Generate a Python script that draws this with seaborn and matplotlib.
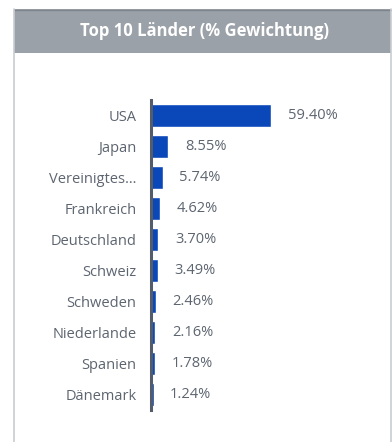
import matplotlib
matplotlib.use("Agg")
import matplotlib.pyplot as plt
import seaborn as sns
import pandas as pd
from matplotlib.patches import Rectangle
from matplotlib.lines import Line2D

countries = ["USA", "Japan", "Vereinigtes…", "Frankreich", "Deutschland",
             "Schweiz", "Schweden", "Niederlande", "Spanien", "Dänemark"]
weights = [59.40, 8.55, 5.74, 4.62, 3.70, 3.49, 2.46, 2.16, 1.78, 1.24]
value_labels = ["59.40%", "8.55%", "5.74%", "4.62%", "3.70%",
                "3.49%", "2.46%", "2.16%", "1.78%", "1.24%"]
title = "Top 10 Länder (% Gewichtung)"

df = pd.DataFrame({"Land": countries, "Gewichtung": weights})

sns.set_theme(style="white")
plt.rcParams["font.family"] = ["Open Sans", "DejaVu Sans"]

W, H = 392, 442
fig = plt.figure(figsize=(W / 100, H / 100), dpi=100)
fig.patch.set_facecolor("white")

# card frame and header band (figure pixel coordinates)
def fx(x):
    return x / W

def fy(y):
    return 1 - y / H

fig.patches.append(Rectangle((fx(14), fy(53)), fx(391) - fx(14), fy(9) - fy(53),
                             transform=fig.transFigure, facecolor="#9ba1a8",
                             edgecolor="none", zorder=0))
fig.lines.append(Line2D([fx(14), fx(391)], [fy(9.5), fy(9.5)], transform=fig.transFigure,
                        color="#7d848b", lw=1.0))
fig.lines.append(Line2D([fx(14), fx(14)], [fy(9), 0], transform=fig.transFigure,
                        color="#c9cdd1", lw=1.2))
fig.lines.append(Line2D([fx(390.5), fx(390.5)], [fy(9), 0], transform=fig.transFigure,
                        color="#c9cdd1", lw=1.2))
fig.text(fx(204), fy(31), title, ha="center", va="center", color="white",
         fontsize=12, fontweight="bold")

# bar chart area
left, right, top, bottom = 151, 373, 100, 410
ax = fig.add_axes([fx(left), fy(bottom), fx(right) - fx(left), fy(top) - fy(bottom)])
sns.barplot(data=df, x="Gewichtung", y="Land", orient="h", color="#0a47b9",
            width=0.74, saturation=1, ax=ax)
ax.set_xlim(0, (right - left) / 2.02)
ax.set_ylim(9.5, -0.5)
ax.set_xlabel("")
ax.set_ylabel("")
ax.set_xticks([])
ax.set_facecolor("none")
for s in ["top", "right", "bottom"]:
    ax.spines[s].set_visible(False)
ax.spines["left"].set_color("#535c68")
ax.spines["left"].set_linewidth(2.2)
ax.tick_params(axis="y", length=0, pad=10.5, labelsize=10.5, labelcolor="#5d6570")

for i, (v, lab) in enumerate(zip(weights, value_labels)):
    ax.annotate(lab, xy=(v, i), xytext=(12, 0), textcoords="offset points",
                ha="left", va="center", fontsize=10.5, color="#5d6570")

fig.savefig("out.png", dpi=100)
